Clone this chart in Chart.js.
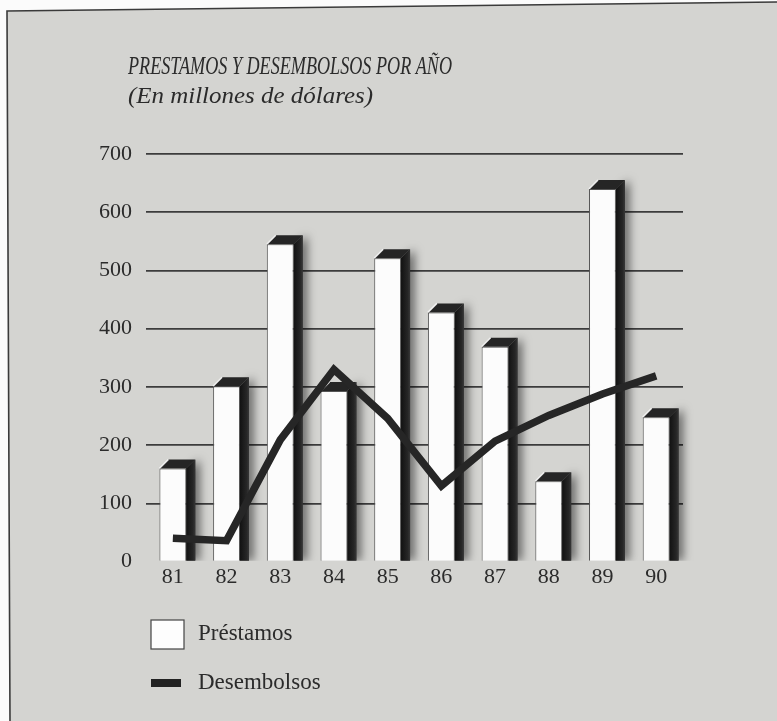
<!DOCTYPE html>
<html>
<head>
<meta charset="utf-8">
<script src="https://cdn.jsdelivr.net/npm/chart.js@4.4.1/dist/chart.umd.min.js"></script>
<style>
html,body{margin:0;padding:0;background:#fff;}
#wrap{width:777px;height:721px;position:relative;}
canvas{display:block;}
</style>
</head>
<body>
<div id="wrap"><canvas id="c" width="777" height="721"></canvas></div>
<script>
// ---- data ----
const years = ['81','82','83','84','85','86','87','88','89','90'];
const prestamos = [160, 301, 545, 293, 521, 428, 369, 138, 640, 248];
const desembolsos = [40, 36, 209, 330, 246, 130, 207, 251, 288, 319];
const titleLines = ['PRESTAMOS Y DESEMBOLSOS POR AÑO', '(En millones de dólares)'];
const seriesNames = ['Préstamos', 'Desembolsos'];
const yMin = 0, yMax = 700, yStep = 100;

const INK = '#2b2b2b';
const BG = 'rgb(212,212,209)';
const SERIF = '"Liberation Serif", "DejaVu Serif", serif';

const backdrop = {
  id: 'backdrop',
  beforeDraw(chart) {
    const ctx = chart.ctx;
    ctx.save();
    ctx.fillStyle = '#fbfbfb';
    ctx.fillRect(0, 0, chart.width, chart.height);
    ctx.fillStyle = BG;
    ctx.beginPath();
    ctx.moveTo(7, 11);
    ctx.lineTo(chart.width, 2);
    ctx.lineTo(chart.width, chart.height);
    ctx.lineTo(10, chart.height);
    ctx.closePath();
    ctx.fill();
    ctx.strokeStyle = '#3a3a3a';
    ctx.lineWidth = 1.6;
    ctx.beginPath();
    ctx.moveTo(10, chart.height);
    ctx.lineTo(7, 11);
    ctx.lineTo(chart.width, 2);
    ctx.stroke();
    ctx.restore();
  }
};

const titleDraw = {
  id: 'titleDraw',
  afterDraw(chart) {
    const ctx = chart.ctx;
    ctx.save();
    ctx.fillStyle = INK;
    ctx.textBaseline = 'alphabetic';
    const targets = [[128, 74, 324, 25], [128, 103, 245, 23]];
    titleLines.forEach((t, i) => {
      const [x, y, w, size] = targets[i];
      ctx.font = 'italic ' + size + 'px ' + SERIF;
      const m = ctx.measureText(t).width;
      ctx.save();
      ctx.translate(x, y);
      ctx.scale(w / m, 1);
      ctx.fillText(t, 0, 0);
      ctx.restore();
    });
    ctx.restore();
  }
};

const legendDraw = {
  id: 'legendDraw',
  afterDraw(chart) {
    const ctx = chart.ctx;
    const ds = chart.data.datasets;
    const barDs = ds.find(d => d.type === 'bar');
    const lineDs = ds.find(d => d.type === 'line');
    ctx.save();
    // bar swatch
    ctx.fillStyle = '#fdfdfd';
    ctx.fillRect(151, 620, 33, 29);
    ctx.strokeStyle = '#444';
    ctx.lineWidth = 1.2;
    ctx.strokeRect(151, 620, 33, 29);
    // line swatch
    ctx.fillStyle = '#222';
    ctx.fillRect(151, 679, 30, 8);
    ctx.fillStyle = INK;
    ctx.font = '23px ' + SERIF;
    ctx.textBaseline = 'alphabetic';
    ctx.fillText(barDs.label, 198, 640);
    ctx.fillText(lineDs.label, 198, 689);
    ctx.restore();
  }
};

const extrude = {
  id: 'extrude',
  beforeDatasetsDraw(chart) {
    const idx = chart.data.datasets.findIndex(d => d.type === 'bar');
    const meta = chart.getDatasetMeta(idx);
    const ctx = chart.ctx;
    const d = 9;
    meta.data.forEach(el => {
      const p = el.getProps(['x', 'y', 'base', 'width'], true);
      const l = p.x - p.width / 2, r = p.x + p.width / 2, top = p.y, base = p.base;
      ctx.save();
      ctx.beginPath();
      ctx.rect(l - 2, top - d - 20, p.width + 40, base - top + d + 20);
      ctx.clip();
      // soft outer shadow
      ctx.save();
      ctx.shadowColor = 'rgba(0,0,0,0.6)';
      ctx.shadowBlur = 10;
      ctx.shadowOffsetX = 4;
      ctx.fillStyle = '#2a2a2a';
      ctx.beginPath();
      ctx.moveTo(r, top);
      ctx.lineTo(r + d, top - d);
      ctx.lineTo(r + d, base);
      ctx.lineTo(r, base);
      ctx.closePath();
      ctx.fill();
      ctx.restore();
      // right face gradient
      const g = ctx.createLinearGradient(r, 0, r + d + 2, 0);
      g.addColorStop(0, '#121212');
      g.addColorStop(0.6, '#262626');
      g.addColorStop(1, '#464646');
      ctx.fillStyle = g;
      ctx.beginPath();
      ctx.moveTo(r, top);
      ctx.lineTo(r + d, top - d);
      ctx.lineTo(r + d, base);
      ctx.lineTo(r, base);
      ctx.closePath();
      ctx.fill();
      // top face
      ctx.fillStyle = '#252525';
      ctx.beginPath();
      ctx.moveTo(l, top);
      ctx.lineTo(l + d, top - d);
      ctx.lineTo(r + d, top - d);
      ctx.lineTo(r, top);
      ctx.closePath();
      ctx.fill();
      // highlight on bevel
      ctx.strokeStyle = 'rgba(255,255,255,0.85)';
      ctx.lineWidth = 1.5;
      ctx.beginPath();
      ctx.moveTo(l, top);
      ctx.lineTo(l + d, top - d);
      ctx.stroke();
      ctx.restore();
    });
  }
};

new Chart(document.getElementById('c'), {
  data: {
    labels: years,
    datasets: [
      {
        type: 'line',
        label: seriesNames[1],
        data: desembolsos,
        borderColor: '#262626',
        borderWidth: 7.5,
        pointRadius: 0,
        tension: 0,
        borderJoinStyle: 'miter',
        borderCapStyle: 'butt',
        order: 0
      },
      {
        type: 'bar',
        label: seriesNames[0],
        data: prestamos,
        backgroundColor: '#fcfcfc',
        borderColor: '#555',
        borderWidth: 1,
        barPercentage: 0.5,
        categoryPercentage: 1,
        order: 1
      }
    ]
  },
  options: {
    responsive: false,
    animation: false,
    devicePixelRatio: 1,
    layout: { padding: { top: 154, right: 94, left: 0, bottom: 0 } },
    plugins: {
      legend: { display: false },
      title: { display: false },
      tooltip: { enabled: false }
    },
    scales: {
      x: {
        type: 'category',
        offset: true,
        grid: { display: false, drawTicks: false },
        border: { display: false },
        ticks: {
          color: INK,
          padding: 2,
          font: { family: SERIF, size: 22 }
        },
        afterFit(scale) { scale.height = 159.4; }
      },
      y: {
        type: 'linear',
        min: yMin,
        max: yMax,
        grid: {
          drawTicks: false,
          color: (c) => (c.tick && c.tick.value === 0) ? 'rgba(0,0,0,0)' : '#3c3c3c',
          lineWidth: 1.7
        },
        border: { display: false },
        ticks: {
          stepSize: yStep,
          color: INK,
          padding: 14,
          font: { family: SERIF, size: 22 }
        },
        afterFit(scale) { scale.width = 146; }
      }
    }
  },
  plugins: [backdrop, extrude, titleDraw, legendDraw]
});
</script>
</body>
</html>
